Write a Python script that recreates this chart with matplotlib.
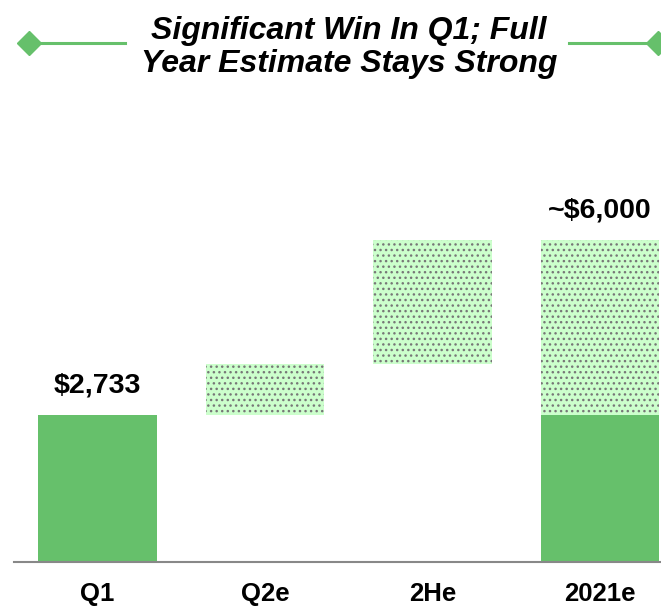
import numpy as np
import matplotlib
matplotlib.use('Agg')
import matplotlib.pyplot as plt
from matplotlib.lines import Line2D

# data
categories = ['Q1', 'Q2e', '2He', '2021e']
q1_actual = 2733
step_values = [940, 2327]          # Q2e, 2He increments (estimates)
full_year = 6000
top_labels = ['$2,733', '', '', '~$6,000']

green = '#66c06b'
light_green = '#ccffcc'
dot_gray = '#777777'

plt.rcParams['font.family'] = ['Liberation Sans', 'DejaVu Sans']
plt.rcParams['hatch.linewidth'] = 1.0

fig = plt.figure(figsize=(6.61, 6.06), dpi=100)
ax = fig.add_axes([0.0, 0.0734, 1.0, 0.7616])

x = np.arange(len(categories))
width = 0.71

# solid part: actual Q1 results
solid = [q1_actual, 0, 0, q1_actual]
ax.bar(x, solid, width=width, color=green, linewidth=0)

# dotted part: estimates
est_bottom = [0, q1_actual, q1_actual + step_values[0], q1_actual]
est_height = [0, step_values[0], step_values[1], full_year - q1_actual]
ax.bar(x, est_height, bottom=est_bottom, width=width, color=light_green,
       edgecolor=dot_gray, linewidth=0, hatch='...')

# value labels above bars
tops = [q1_actual, 0, 0, full_year]
for i in range(len(categories)):
    if top_labels[i]:
        ax.annotate(top_labels[i], (x[i], tops[i]), xytext=(0, 21),
                    textcoords='offset points', ha='center', va='center',
                    fontsize=20.5, fontweight='bold')

ax.set_xlim(-0.582, 3.364)
ax.set_ylim(0, 8600)
ax.set_xticks(x)
ax.set_xticklabels(categories, fontsize=18.5, fontweight='bold')
ax.tick_params(axis='x', length=0, pad=15)
ax.set_yticks([])
for s in ['top', 'left', 'right']:
    ax.spines[s].set_visible(False)
ax.spines['bottom'].set_color('#888888')
ax.spines['bottom'].set_linewidth(1.5)
ax.spines['bottom'].set_bounds(-0.5, 3.364)

# title with green decorations
fig.text(0.528, 1 - 47.5 / 606, 'Significant Win In Q1; Full\nYear Estimate Stays Strong',
         ha='center', va='center', fontsize=23, fontweight='bold', style='italic',
         linespacing=1.13)
fig.add_artist(Line2D([29 / 661, 125 / 661], [1 - 43 / 606, 1 - 43 / 606],
                      transform=fig.transFigure, color=green, lw=2.2))
fig.add_artist(Line2D([569 / 661, 658 / 661], [1 - 43 / 606, 1 - 43 / 606],
                      transform=fig.transFigure, color=green, lw=2.2))
fig.add_artist(Line2D([29 / 661, 658 / 661], [1 - 43 / 606, 1 - 43 / 606],
                      transform=fig.transFigure, color=green, lw=0,
                      marker='D', markersize=12))

plt.savefig('out.png', dpi=100)
